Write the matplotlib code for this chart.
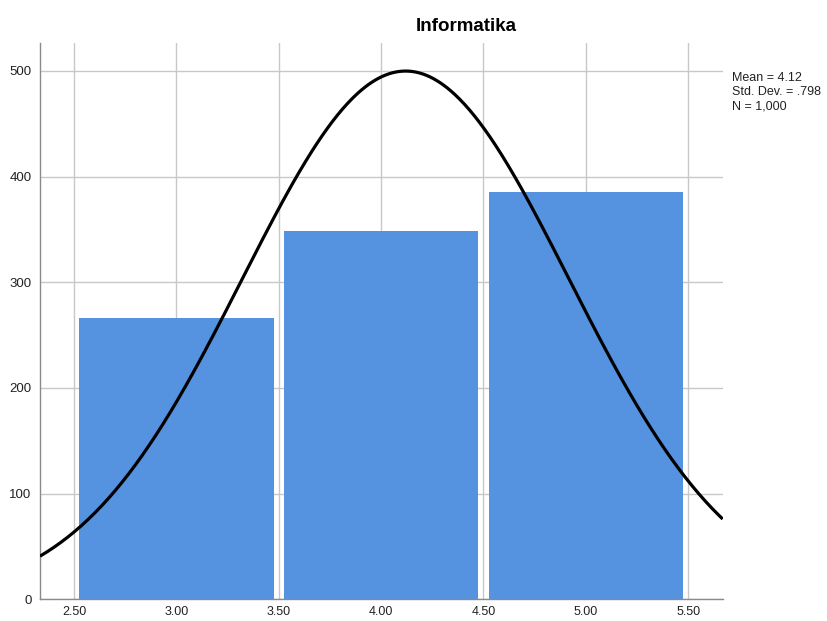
import numpy as np
import matplotlib
matplotlib.use('Agg')
import matplotlib.pyplot as plt

# histogram of Informatika scores (SPSS style)
bin_centers = [3.0, 4.0, 5.0]
counts = [266, 349, 385]
x_ticks = [2.5, 3.0, 3.5, 4.0, 4.5, 5.0, 5.5]
y_ticks = [0, 100, 200, 300, 400, 500]

mean = 4.12
std_dev = 0.798
n_total = 1000
bin_width = 1.0

sans = ['Liberation Sans', 'DejaVu Sans']

fig = plt.figure(figsize=(8.27, 6.21), dpi=100)
ax = fig.add_axes([0.0484, 0.0349, 0.8255, 0.8959])

ax.bar(bin_centers, counts, width=0.95, color='#5592e0', zorder=2)

# normal curve from the reported statistics
xs = np.linspace(2.334, 5.669, 400)
ys = n_total * bin_width / (std_dev * np.sqrt(2 * np.pi)) * np.exp(-0.5 * ((xs - mean) / std_dev) ** 2)
ax.plot(xs, ys, color='black', linewidth=2.3, zorder=3, solid_capstyle='butt')

ax.set_xlim(2.334, 5.669)
ax.set_ylim(0, 526.5)
ax.set_xticks(x_ticks)
ax.set_xticklabels(['%.2f' % t for t in x_ticks], family=sans, fontsize=9)
ax.set_yticks(y_ticks)
ax.set_yticklabels([str(t) for t in y_ticks], family=sans, fontsize=9.5)
ax.tick_params(axis='both', length=0, colors='#222222')
ax.tick_params(axis='y', pad=6)
ax.tick_params(axis='x', pad=5)

ax.grid(True, color='#c8c8c8', linewidth=1.0, zorder=0)
ax.set_axisbelow(True)
for side in ['top', 'right']:
    ax.spines[side].set_visible(False)
for side in ['left', 'bottom']:
    ax.spines[side].set_color('#8a8a8a')
    ax.spines[side].set_linewidth(1.0)

fig.text(0.5643, 0.958, 'Informatika', ha='center', va='center',
         fontsize=13.5, fontweight='bold', family=sans)

stats = 'Mean = 4.12\nStd. Dev. = .798\nN = 1,000'
fig.text(0.8848, 0.884, stats, ha='left', va='top', fontsize=9,
         family=sans, linespacing=1.25, color='#222222')

fig.savefig('out.png', dpi=100)
